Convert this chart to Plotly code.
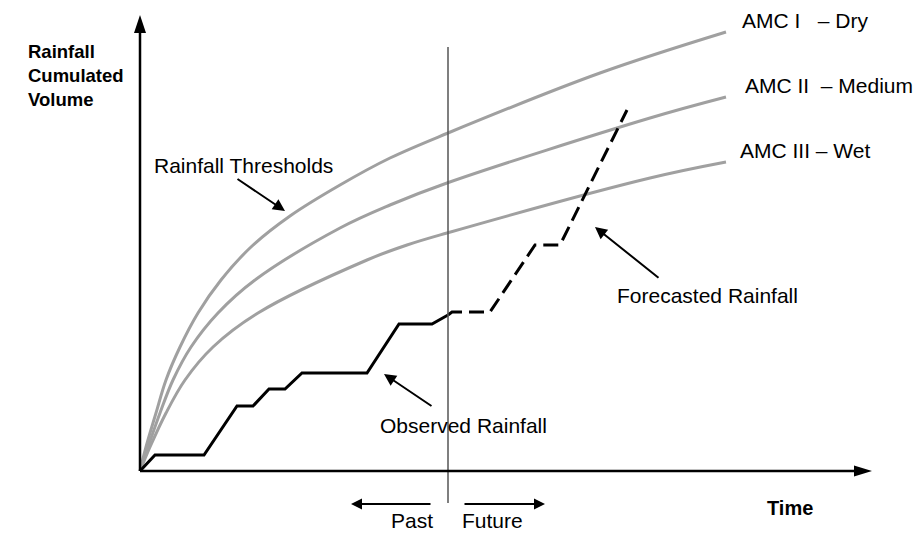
import plotly.graph_objects as go

# threshold curves (time, cumulated volume), arbitrary units
amc1_t = [0, 6, 16, 26, 40, 58, 81, 111, 150, 200, 250, 308, 460, 586]
amc1_v = [0, 24, 58, 91, 124, 158, 191, 224, 255, 286, 313, 338, 398, 439]
amc2_t = [0, 8, 20, 33, 51, 78, 115, 200, 250, 307, 510, 586]
amc2_v = [0, 24, 58, 91, 124, 158, 191, 243, 266, 288, 353, 374]
amc3_t = [0, 10, 26, 45, 73, 118, 227, 267, 307, 510, 586]
amc3_v = [0, 24, 58, 91, 124, 158, 211, 226, 238, 293, 309]

# observed rainfall (step-like)
obs_t = [0, 15, 64, 97, 113, 129, 145, 162, 227, 259, 292, 308]
obs_v = [0, 16, 16, 65, 65, 82, 82, 98, 98, 147, 147, 156]

# forecasted rainfall
fc_t = [308, 312, 350, 395, 420, 487]
fc_v = [156, 159, 159, 226, 226, 361]

now_t = 308  # present time
labels = ["AMC I\u00a0\u00a0\u00a0– Dry", "AMC II\u00a0\u00a0– Medium", "AMC III – Wet"]

FONT = "Arial, Liberation Sans, sans-serif"
GRAY = "#a0a0a0"

fig = go.Figure()

for t, v in [(amc1_t, amc1_v), (amc2_t, amc2_v), (amc3_t, amc3_v)]:
	fig.add_trace(go.Scatter(
		x=t, y=v, mode='lines',
		line=dict(color=GRAY, width=3, shape='spline', smoothing=1),
		hoverinfo='skip',
	))

fig.add_trace(go.Scatter(
	x=obs_t, y=obs_v, mode='lines',
	line=dict(color='black', width=3),
))
fig.add_trace(go.Scatter(
	x=fc_t, y=fc_v, mode='lines',
	line=dict(color='black', width=3, dash='15px,7px'),
))

# present-time divider
fig.add_trace(go.Scatter(
	x=[now_t, now_t], y=[424, -32], mode='lines',
	line=dict(color='#555555', width=1.5),
))

# axes drawn by hand
fig.add_shape(type='line', x0=0, y0=0, x1=714, y1=0,
	line=dict(color='black', width=2.5))
fig.add_shape(type='line', x0=0, y0=0, x1=0, y1=440,
	line=dict(color='black', width=2.5))
fig.add_shape(type='path', xsizemode='pixel', ysizemode='pixel',
	xanchor=732, yanchor=0, path='M0,0 L-18,5.5 L-18,-5.5 Z',
	fillcolor='black', line=dict(width=0))
fig.add_shape(type='path', xsizemode='pixel', ysizemode='pixel',
	xanchor=0, yanchor=456, path='M0,0 L-6,-18 L6,-18 Z',
	fillcolor='black', line=dict(width=0))

def arrow(x, y, ax, ay, size=1.2):
	fig.add_annotation(
		x=x, y=y, ax=ax, ay=ay, xref='x', yref='y', axref='x', ayref='y',
		text='', showarrow=True, arrowhead=2, arrowsize=size,
		arrowwidth=2, arrowcolor='black',
	)

arrow(145, 260, 96, 293)
arrow(244, 97, 293, 64)
arrow(455, 244, 520, 192)
arrow(211, -33, 292, -33, 1.1)
arrow(405, -33, 323, -33, 1.1)

def label(x, y, text, size=21, bold=False, xanchor='left', align='left'):
	fig.add_annotation(
		x=x, y=y, xref='x', yref='y', text=f"<b>{text}</b>" if bold else text,
		showarrow=False, xanchor=xanchor, yanchor='middle', align=align,
		font=dict(family=FONT, size=size, color='black'),
	)

label(12, 306, "Rainfall Thresholds")
label(238, 46, "Observed Rainfall")
label(475, 176, "Forecasted Rainfall")
label(600, 451, labels[0])
label(603, 386, labels[1])
label(598, 321, labels[2])
label(272, -49, "Past", xanchor='center')
label(352, -49, "Future", xanchor='center')
label(650, -37, "Time", size=20, bold=True, xanchor='center')
label(-114, 396, "Rainfall<br>Cumulated<br>Volume", size=18.5, bold=True)

fig.update_xaxes(range=[-140, 778], visible=False)
fig.update_yaxes(range=[-62, 471], visible=False)

fig.update_layout(
	width=918,
	height=533,
	margin=dict(l=0, r=0, t=0, b=0),
	plot_bgcolor='white',
	paper_bgcolor='white',
	showlegend=False,
)

# page has a default 8px body margin; drop it so the figure fills the window
fig.write_html(
	"out.html",
	config={'displayModeBar': False},
	post_script="document.body.style.margin='0';",
)
